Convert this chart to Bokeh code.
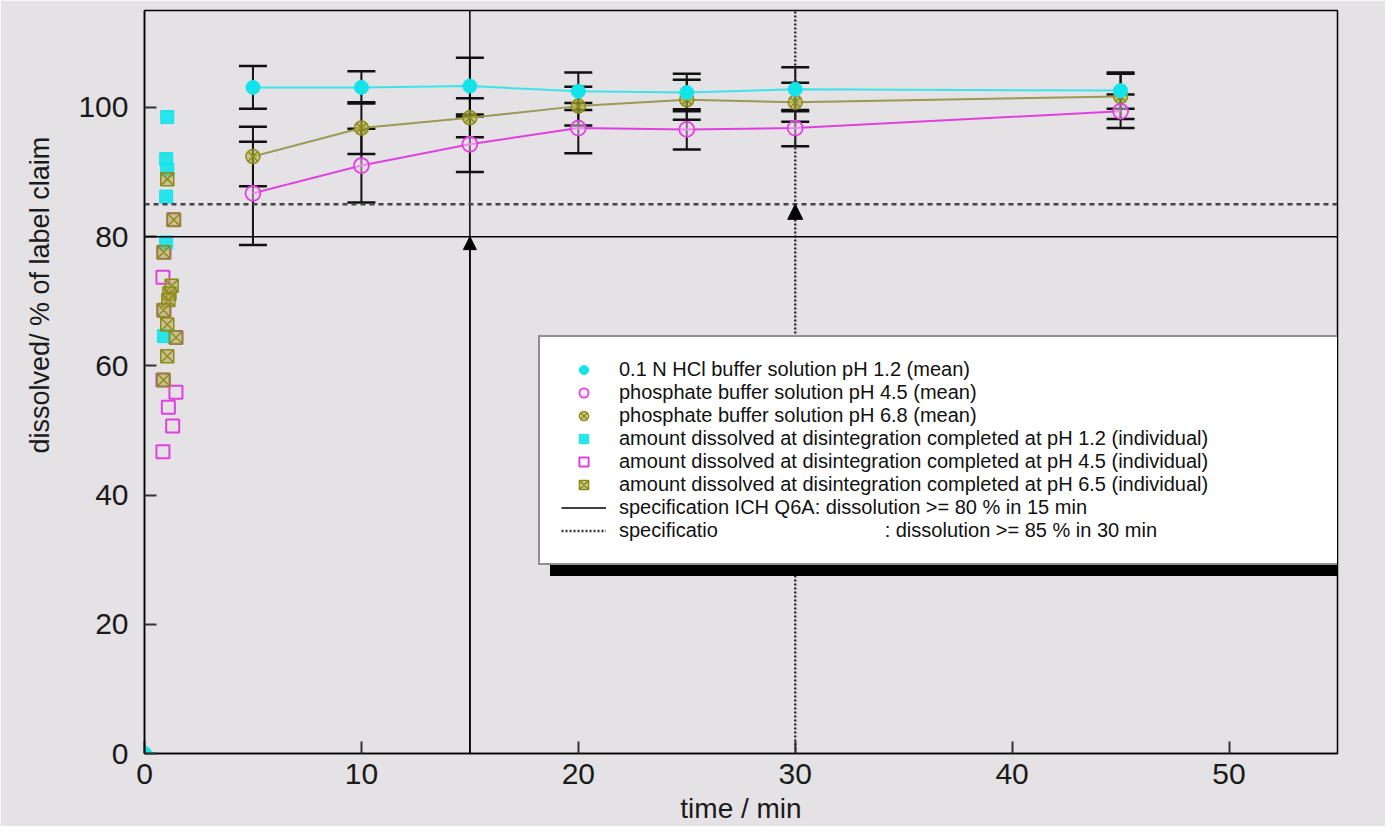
from bokeh.plotting import figure
from bokeh.models import (ColumnDataSource, Whisker, TeeHead, Span, Arrow, NormalHead,
                          Legend, LegendItem, Range1d, FixedTicker, Title)
from bokeh.embed import file_html
from bokeh.resources import INLINE

# ---------------- data ----------------
time_mean = [5, 10, 15, 20, 25, 30, 45]
ph12_mean = [103.1, 103.1, 103.3, 102.5, 102.3, 102.8, 102.6]
ph12_sd = [3.3, 2.5, 4.4, 2.9, 2.9, 3.4, 2.8]
ph45_mean = [86.7, 91.0, 94.3, 96.8, 96.6, 96.8, 99.4]
ph45_sd = [8.0, 5.7, 4.3, 3.9, 3.1, 2.8, 2.6]
ph68_mean = [92.4, 96.8, 98.4, 100.2, 101.2, 100.8, 101.7]
ph68_sd = [4.6, 4.0, 3.0, 3.0, 3.1, 3.0, 3.5]
start_time = [0]
start_value = [0]

ind12_t = [1.05, 1.0, 1.05, 1.0, 1.0, 0.9]
ind12_v = [98.5, 92.0, 90.4, 86.2, 79.1, 64.6]
ind45_t = [0.85, 1.45, 1.1, 1.3, 0.85, 1.35, 0.9, 0.9, 1.45, 0.85]
ind45_v = [73.7, 55.9, 53.6, 50.7, 46.7, 82.6, 77.6, 68.6, 64.4, 57.8]
ind65_t = [1.05, 1.35, 0.88, 1.25, 1.15, 1.1, 0.88, 1.05, 1.05, 0.88, 1.45]
ind65_v = [88.9, 82.6, 77.6, 72.4, 71.2, 70.2, 68.6, 66.4, 61.5, 57.8, 64.4]

spec1_time, spec1_limit = 15, 80
spec2_time, spec2_limit = 30, 85

x_lim = (0, 55)
y_lim = (0, 115)
x_ticks = [0, 10, 20, 30, 40, 50]
y_ticks = [0, 20, 40, 60, 80, 100]

labels = [
    "0.1 N HCl buffer solution pH 1.2 (mean)",
    "phosphate buffer solution pH 4.5 (mean)",
    "phosphate buffer solution pH 6.8 (mean)",
    "amount dissolved at disintegration completed at pH 1.2 (individual)",
    "amount dissolved at disintegration completed at pH 4.5 (individual)",
    "amount dissolved at disintegration completed at pH 6.5 (individual)",
    "specification ICH Q6A: dissolution >= 80 % in 15 min",
    "specificatio                              : dissolution >= 85 % in 30 min",
]

# ---------------- styling ----------------
BG = "#e4e2e5"
CYAN = "#12e4ea"
MAG = "#e040e0"
OLIVE_LINE = "#9a9a55"
OLIVE = "#8c8c18"
FONT = "Liberation Sans"

p = figure(width=1385, height=826, x_range=Range1d(*x_lim), y_range=Range1d(*y_lim),
           output_backend="svg", toolbar_location=None,
           min_border_left=144, min_border_right=48, min_border_top=10, min_border_bottom=71,
           background_fill_color=BG, border_fill_color=BG)
p.grid.visible = False
p.outline_line_color = "black"
p.outline_line_width = 1.5

for ax in (p.xaxis[0], p.yaxis[0]):
    ax.axis_line_color = "black"
    ax.axis_line_width = 1.5
    ax.major_tick_in = 12
    ax.major_tick_out = 0
    ax.major_tick_line_color = "#333333"
    ax.major_tick_line_width = 2
    ax.minor_tick_line_color = None
    ax.major_label_text_font = FONT
    ax.major_label_text_font_size = "30px"
    ax.major_label_text_color = "#1a1a1a"
p.xaxis.ticker = FixedTicker(ticks=x_ticks)
p.yaxis.ticker = FixedTicker(ticks=y_ticks)
p.yaxis.major_label_standoff = 16
p.xaxis.major_label_standoff = 10
p.xaxis.axis_label = "time / min"
p.xaxis.axis_label_text_font = FONT
p.xaxis.axis_label_text_font_size = "28px"
p.xaxis.axis_label_text_font_style = "normal"
p.xaxis.axis_label_text_color = "#1a1a1a"
p.xaxis.axis_label_standoff = 6

ytitle = Title(text="dissolved/ % of label claim", align="left", offset=300,
               text_font=FONT, text_font_size="27px", text_font_style="normal",
               text_color="#1a1a1a", standoff=42)
p.add_layout(ytitle, "left")

# spec lines
p.add_layout(Span(location=spec1_limit, dimension="width", line_color="black", line_width=1.5))
p.add_layout(Span(location=spec2_limit, dimension="width", line_color="#444444",
                  line_width=2.5, line_dash="5 4"))
r_s1 = p.line(x=[spec1_time, spec1_time], y=list(y_lim), line_color="black", line_width=1.5)
r_s2 = p.line(x=[spec2_time, spec2_time], y=list(y_lim), line_color="#333333",
              line_width=2.5, line_dash="2 2")
p.add_layout(Arrow(end=NormalHead(size=13, fill_color="black", line_color="black"),
                   x_start=spec1_time, y_start=0, x_end=spec1_time, y_end=spec1_limit,
                   line_color="black", line_width=1.5))
p.add_layout(Arrow(end=NormalHead(size=15, fill_color="black", line_color="black"),
                   x_start=spec2_time, y_start=0, x_end=spec2_time, y_end=spec2_limit,
                   line_color="#333333", line_width=0.1))

# error bars
for mean, sd in ((ph12_mean, ph12_sd), (ph45_mean, ph45_sd), (ph68_mean, ph68_sd)):
    src = ColumnDataSource(dict(t=time_mean,
                                lo=[m - s for m, s in zip(mean, sd)],
                                hi=[m + s for m, s in zip(mean, sd)]))
    p.add_layout(Whisker(base="t", lower="lo", upper="hi", source=src,
                         line_color="#111111", line_width=2,
                         upper_head=TeeHead(size=28, line_color="#111111", line_width=2.5),
                         lower_head=TeeHead(size=28, line_color="#111111", line_width=2.5)))

# mean lines
p.line(time_mean, ph12_mean, line_color=CYAN, line_width=2, line_alpha=0.8)
p.line(time_mean, ph68_mean, line_color=OLIVE_LINE, line_width=2)
p.line(time_mean, ph45_mean, line_color=MAG, line_width=2)

# individual points
r_i45 = p.scatter(ind45_t, ind45_v, marker="square", size=13, fill_color=None,
                  line_color=MAG, line_width=2)
r_i12 = p.scatter(ind12_t, ind12_v, marker="square", size=13, fill_color=CYAN,
                  line_color=CYAN, fill_alpha=0.9)
r_i65 = p.scatter(ind65_t, ind65_v, marker="square_x", size=13, fill_color="#b0a040",
                  fill_alpha=0.5, line_color=OLIVE, line_width=1.5)

# mean markers
r_m68 = p.scatter(time_mean, ph68_mean, marker="circle_x", size=14, fill_color="#b5b54a",
                  fill_alpha=0.6, line_color=OLIVE, line_width=1.5)
r_m45 = p.scatter(time_mean, ph45_mean, marker="circle", size=15, fill_color="#f4d4f4",
                  fill_alpha=0.5, line_color=MAG, line_width=1.8)
r_m12 = p.scatter(time_mean, ph12_mean, marker="circle", size=14, fill_color=CYAN,
                  line_color=CYAN)
p.scatter(start_time, start_value, marker="circle", size=14, fill_color=CYAN, line_color=CYAN)

rends = [r_m12, r_m45, r_m68, r_i12, r_i45, r_i65, r_s1, r_s2]

PAD, GW, STAND, LW, LH = 21, 45, 13, 763, 23

# drop shadow: a plain black box of the same size, offset down-right
shadow = Legend(items=[LegendItem(label="", renderers=[r_s1])], location=(406, 177),
                margin=0, padding=PAD, spacing=0, glyph_width=GW,
                glyph_height=LH * len(labels), label_height=LH * len(labels),
                label_width=LW, label_standoff=STAND, label_text_font_size="1px",
                background_fill_color="black", background_fill_alpha=1.0,
                border_line_color="black", border_line_width=2)
p.add_layout(shadow)

legend = Legend(items=[LegendItem(label=l, renderers=[r]) for l, r in zip(labels, rends)],
                location=(394, 188), margin=0, padding=PAD, spacing=0,
                glyph_width=GW, glyph_height=LH, label_height=LH, label_width=LW,
                label_standoff=STAND, label_text_font=FONT, label_text_font_size="20px",
                label_text_color="#111111", background_fill_color="white",
                background_fill_alpha=1.0, border_line_color="#222222", border_line_width=2)
p.add_layout(legend)

open("out.html", "w").write(file_html(p, INLINE))
